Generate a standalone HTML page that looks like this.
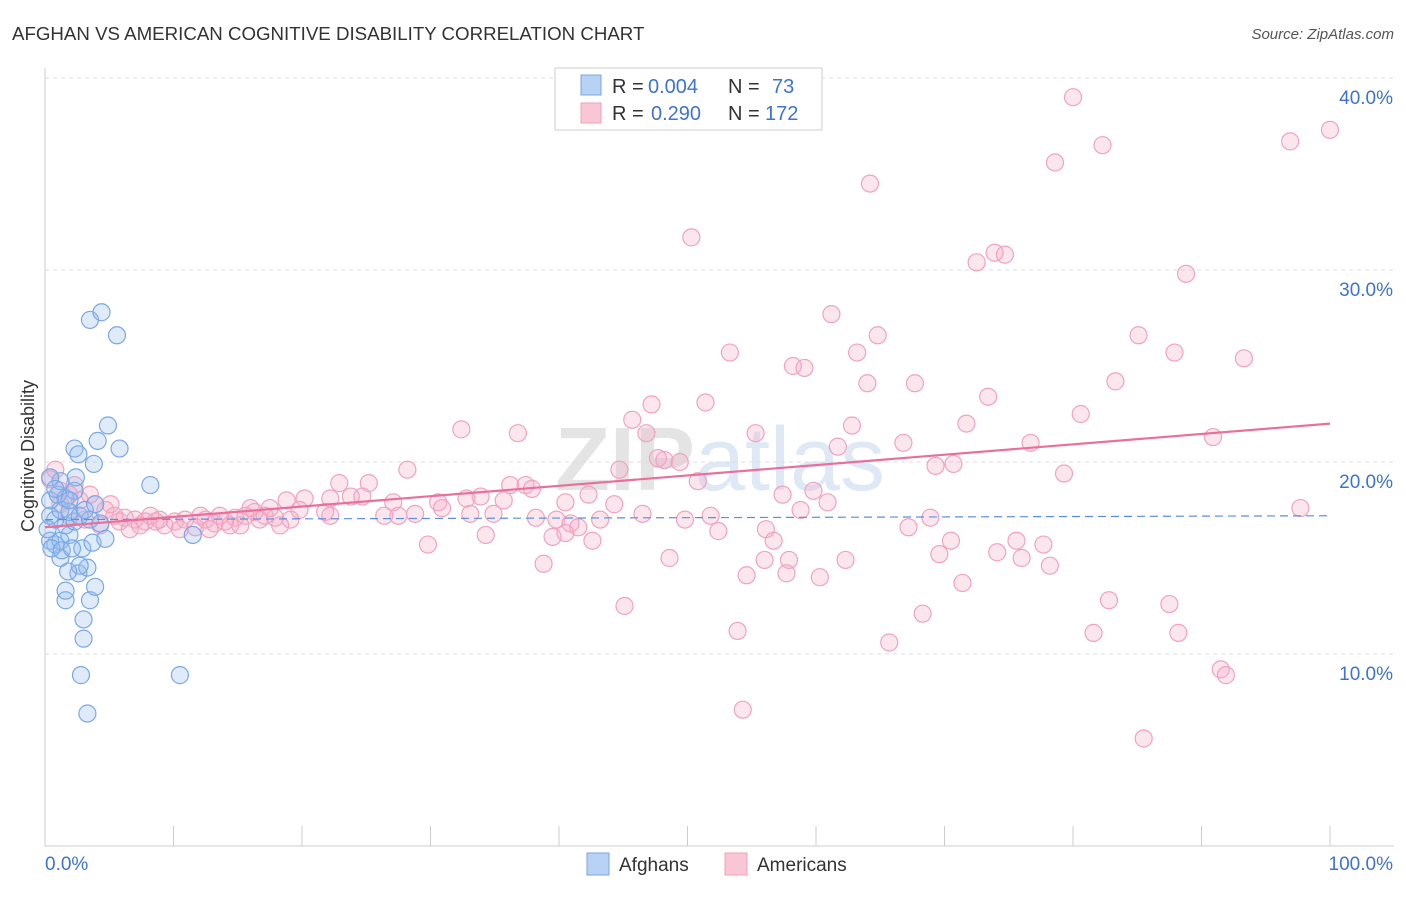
<!DOCTYPE html>
<html><head><meta charset="utf-8"><style>
body{margin:0;background:#fff;font-family:"Liberation Sans",sans-serif}
svg text{font-family:"Liberation Sans",sans-serif}
</style></head><body>
<svg id="chart" width="1406" height="892" xmlns="http://www.w3.org/2000/svg">
<text x="12" y="40" font-size="18.7" fill="#333">AFGHAN VS AMERICAN COGNITIVE DISABILITY CORRELATION CHART</text>
<text x="1394" y="39" font-size="15" fill="#555" font-style="italic" text-anchor="end">Source: ZipAtlas.com</text>
<text x="720" y="490" font-size="90" fill="#e4e4e4" text-anchor="middle" font-weight="bold">ZIP<tspan fill="#dfe8f5" font-weight="normal">atlas</tspan></text>
<g id="grid"></g>
<g id="axes"></g>
<g id="pts"></g>
<g id="trends"></g>
<text transform="translate(34,456) rotate(-90)" font-size="18" fill="#333" text-anchor="middle">Cognitive Disability</text>
<g>
<rect x="555" y="68" width="267" height="62" fill="#fff" stroke="#ccc"/>
<rect x="581" y="75" width="20" height="20" fill="#b8d2f5" stroke="#7aa6e0"/>
<rect x="581" y="103" width="20" height="20" fill="#f9c6d6" stroke="#eea0bb"/>
<text x="612" y="93" font-size="20" fill="#333">R = <tspan fill="#3f74c9" x="648">0.004</tspan><tspan x="728">N = </tspan><tspan fill="#3f74c9" x="772">73</tspan></text>
<text x="612" y="120" font-size="20" fill="#333">R = <tspan fill="#3f74c9" x="651">0.290</tspan><tspan x="728">N = </tspan><tspan fill="#3f74c9" x="765">172</tspan></text>
</g>
<g>
<rect x="587" y="853" width="22" height="22" fill="#b8d2f5" stroke="#7aa6e0"/>
<text x="619" y="871" font-size="19" fill="#333">Afghans</text>
<rect x="725" y="853" width="22" height="22" fill="#f9c6d6" stroke="#eea0bb"/>
<text x="757" y="871" font-size="19" fill="#333">Americans</text>
</g>
</svg>
<script>
const yTicks=[10,20,30,40];
const yTickLabels=["10.0%","20.0%","30.0%","40.0%"];
const xTicks=[0,10,20,30,40,50,60,70,80,90,100];
const blueX=[3.5,4.4,5.6,4.9,4.1,2.3,2.6,3.8,5.8,8.2,11.5,10.5,2.8,3.3,3.0,3.0,3.5,1.6,1.6,3.9,2.6,3.3,2.7,1.8,1.2,0.8,0.4,1.2,1.9,2.9,3.7,4.7,1.6,2.3,0.8,0.4,1.2,1.9,2.7,3.5,4.3,0.4,1.0,1.6,2.3,1.2,2.4,0.4,0.8,3.1,3.9,1.9,0.2,0.5,1.3,2.1];
const blueY=[27.4,27.8,26.6,21.9,21.1,20.7,20.4,19.9,20.7,18.8,16.2,8.9,8.9,6.9,11.8,10.8,12.8,12.8,13.3,13.5,14.2,14.5,14.6,14.3,15.0,15.7,15.9,15.9,16.2,15.5,15.8,16.0,16.7,16.9,17.0,17.2,17.5,17.4,17.2,17.0,16.8,18.0,18.3,18.1,18.5,19.0,19.2,19.2,18.6,17.5,17.8,18.0,16.5,15.5,15.4,15.5];
const pinkX=[80.0,100,96.9,82.3,78.6,64.2,50.3,72.5,73.9,74.7,88.8,61.2,64.8,85.1,53.3,63.2,87.9,93.3,58.2,59.1,64.0,67.7,83.3,73.4,47.2,51.4,80.6,45.7,32.4,36.8,46.8,55.3,62.8,71.7,90.9,61.7,66.8,76.7,47.7,48.2,49.4,69.3,70.7,44.7,79.3,28.2,50.8,25.2,22.9,36.2,37.4,37.9,57.4,59.8,60.9,42.3,44.3,40.5,33.9,32.8,35.7,30.6,30.9,27.1,23.8,24.7,22.2,20.2,18.8,97.7,58.8,68.9,51.8,46.5,39.8,38.2,34.9,33.1,28.8,27.5,26.4,22.2,21.8,43.2,40.9,41.5,49.8,52.4,67.2,40.5,39.5,42.6,29.8,34.3,56.1,56.7,70.5,75.6,77.7,69.6,74.1,76.0,78.2,48.6,38.8,57.9,62.3,56.0,54.6,57.7,60.3,71.4,45.1,68.3,82.8,87.5,53.9,81.6,88.2,65.7,91.5,91.9,54.3,85.5,0.4,1.2,1.9,2.7,3.9,4.7,5.4,6.2,7.0,7.8,8.6,9.3,10.1,10.9,11.7,12.5,13.2,14.0,14.8,15.6,16.3,17.1,17.9,19.1,19.8,1.2,1.9,3.1,4.3,5.8,7.4,8.9,12.1,14.4,16.7,0.8,2.3,3.5,5.1,10.5,12.8,16.0,6.6,8.2,13.6,15.2,17.5,18.3];
const pinkY=[39.0,37.3,36.7,36.5,35.6,34.5,31.7,30.4,30.9,30.8,29.8,27.7,26.6,26.6,25.7,25.7,25.7,25.4,25.0,24.9,24.1,24.1,24.2,23.4,23.0,23.1,22.5,22.2,21.7,21.5,21.5,21.5,21.9,22.0,21.3,20.8,21.0,21.0,20.2,20.1,20.0,19.8,19.9,19.6,19.4,19.6,19.0,18.9,18.9,18.8,18.8,18.6,18.3,18.5,17.9,18.3,17.8,17.9,18.2,18.1,18.0,17.9,17.6,17.9,18.2,18.2,18.1,18.1,18.0,17.6,17.5,17.1,17.2,17.3,17.0,17.1,17.3,17.3,17.3,17.2,17.2,17.2,17.4,17.0,16.8,16.6,17.0,16.4,16.6,16.3,16.1,15.9,15.7,16.2,16.5,15.9,15.9,15.9,15.7,15.2,15.3,15.0,14.6,15.0,14.7,14.9,14.9,14.9,14.1,14.2,14.0,13.7,12.5,12.1,12.8,12.6,11.2,11.1,11.1,10.6,9.2,8.9,7.1,5.6,19.1,18.5,18.3,18.0,17.8,17.5,17.2,17.1,17.0,16.9,16.9,16.7,16.9,17.0,16.6,17.0,16.8,16.9,17.1,17.2,17.4,17.2,17.1,17.0,17.5,17.8,17.2,17.0,16.7,16.9,16.7,17.0,17.2,16.7,17.0,19.6,18.8,18.3,17.8,16.5,16.5,17.6,16.5,17.2,17.2,16.7,17.6,16.7];
const blueTrend=[17.0,17.2];
const pinkTrend=[16.6,22.0];
const NS="http://www.w3.org/2000/svg";
const X=v=>45+v*12.85, Y=v=>846-v*19.2;
function mk(t,a,p){const e=document.createElementNS(NS,t);for(const k in a)e.setAttribute(k,a[k]);document.getElementById(p).appendChild(e);return e;}
yTicks.forEach((t,i)=>{
 const l=mk('line',{x1:45,x2:1394,y1:Y(t),y2:Y(t),stroke:'#ddd','stroke-dasharray':'4,4'},'grid');
 
 
 const tx=mk('text',{x:1393,y:Y(t)+26,'font-size':19,fill:'#3f74c9','text-anchor':'end'},'axes');
 tx.textContent=yTickLabels[i];
 
 
});
const ax=mk('line',{x1:45,x2:1394,y1:846,y2:846,stroke:'#ccc'},'axes');


const ay=mk('line',{x1:45,x2:45,y1:68,y2:846,stroke:'#ccc'},'axes');


xTicks.forEach(t=>{
 const l=mk('line',{x1:X(t),x2:X(t),y1:826,y2:846,stroke:'#ccc'},'axes');
 
 
});
const x0=mk('text',{x:45,y:870,'font-size':19,fill:'#3f74c9'},'axes');x0.textContent='0.0%';


const x1=mk('text',{x:1393,y:870,'font-size':19,fill:'#3f74c9','text-anchor':'end'},'axes');x1.textContent='100.0%';


pinkX.forEach((v,i)=>{
 const c=mk('circle',{cx:X(v),cy:Y(pinkY[i]),r:8.5,fill:'rgba(246,172,198,0.3)',stroke:'#f0a3bf','stroke-width':1.2},'pts');
 
 
});
blueX.forEach((v,i)=>{
 const c=mk('circle',{cx:X(v),cy:Y(blueY[i]),r:8.5,fill:'rgba(150,190,242,0.3)',stroke:'#7aa8e4','stroke-width':1.2},'pts');
 
 
});
const bt=mk('line',{x1:X(0),x2:X(100),y1:Y(blueTrend[0]),y2:Y(blueTrend[1]),stroke:'#5a8ee0','stroke-width':1.2,'stroke-dasharray':'8,5'},'trends');


const pt=mk('line',{x1:X(0),x2:X(100),y1:Y(pinkTrend[0]),y2:Y(pinkTrend[1]),stroke:'#e8709a','stroke-width':2.2},'trends');


</script>
</body></html>
